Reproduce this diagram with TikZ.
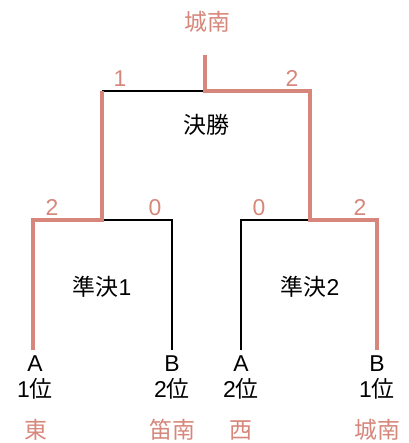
\documentclass[tikz,border=0pt]{standalone}
\usepackage{fontspec}
\setmainfont{Liberation Sans}
\newfontfamily\jp{Noto Sans CJK JP}
\definecolor{sal}{RGB}{214,134,122}
\begin{document}
\begin{tikzpicture}[x=1bp,y=-1bp,
  win/.style={draw=sal,line width=3.6bp,line join=miter},
  lose/.style={draw=black,line width=1.6bp,line join=miter},
  lab/.style={font=\fontsize{23}{23}\selectfont,inner sep=0pt,text=black},
  team/.style={lab,text=sal},
  score/.style={lab,text=sal}]
\useasboundingbox (0,0) rectangle (408,443);
% coordinates
\coordinate (top) at (205,55);
\coordinate (fm) at (205,91);
\coordinate (fl) at (102,91);
\coordinate (fr) at (310,91);
\coordinate (s1l) at (33,220);
\coordinate (s1m) at (102,220);
\coordinate (s1r) at (172,220);
\coordinate (s2l) at (241,220);
\coordinate (s2m) at (310,220);
\coordinate (s2r) at (377,220);
\coordinate (e1) at (33,350);
\coordinate (e2) at (172,350);
\coordinate (e3) at (241,350);
\coordinate (e4) at (377,350);
% losing lines
\draw[lose] (s1m) -- (s1r) -- (e2);
\draw[lose] (e3) -- (s2l) -- (s2m);
\draw[lose] (fl) -- (fm);
% winning lines
\draw[win] (e1) -- (s1l) -- (s1m) -- (fl);
\draw[win] (e4) -- (s2r) -- (s2m) -- (fr) -- (fm) -- (top);
% labels
\node[team] (champ) at (207,22) {\jp 城南};
\node[score] (f1) at (120,79) {1};
\node[score] (f2) at (292,79) {2};
\node[lab] (final) at (206,125) {\jp 決勝};
\node[score] (a1) at (52,208) {2};
\node[score] (a2) at (155,208) {0};
\node[score] (b1) at (259,208) {0};
\node[score] (b2) at (360,208) {2};
\node[lab] (semi1) at (102,287) {{\jp 準決}1};
\node[lab] (semi2) at (310,287) {{\jp 準決}2};
\node[lab] (A1) at (35,364) {A};
\node[lab] (B1) at (172,364) {B};
\node[lab] (A2) at (241,364) {A};
\node[lab] (B2) at (377,364) {B};
\node[lab] (r1) at (35,389) {1{\jp 位}};
\node[lab] (r2) at (172,389) {2{\jp 位}};
\node[lab] (r3) at (241,389) {2{\jp 位}};
\node[lab] (r4) at (377,389) {1{\jp 位}};
\node[team] (t1) at (36,430) {\jp 東};
\node[team] (t2) at (172,430) {\jp 笛南};
\node[team] (t3) at (241,430) {\jp 西};
\node[team] (t4) at (377,430) {\jp 城南};
\end{tikzpicture}
\end{document}
